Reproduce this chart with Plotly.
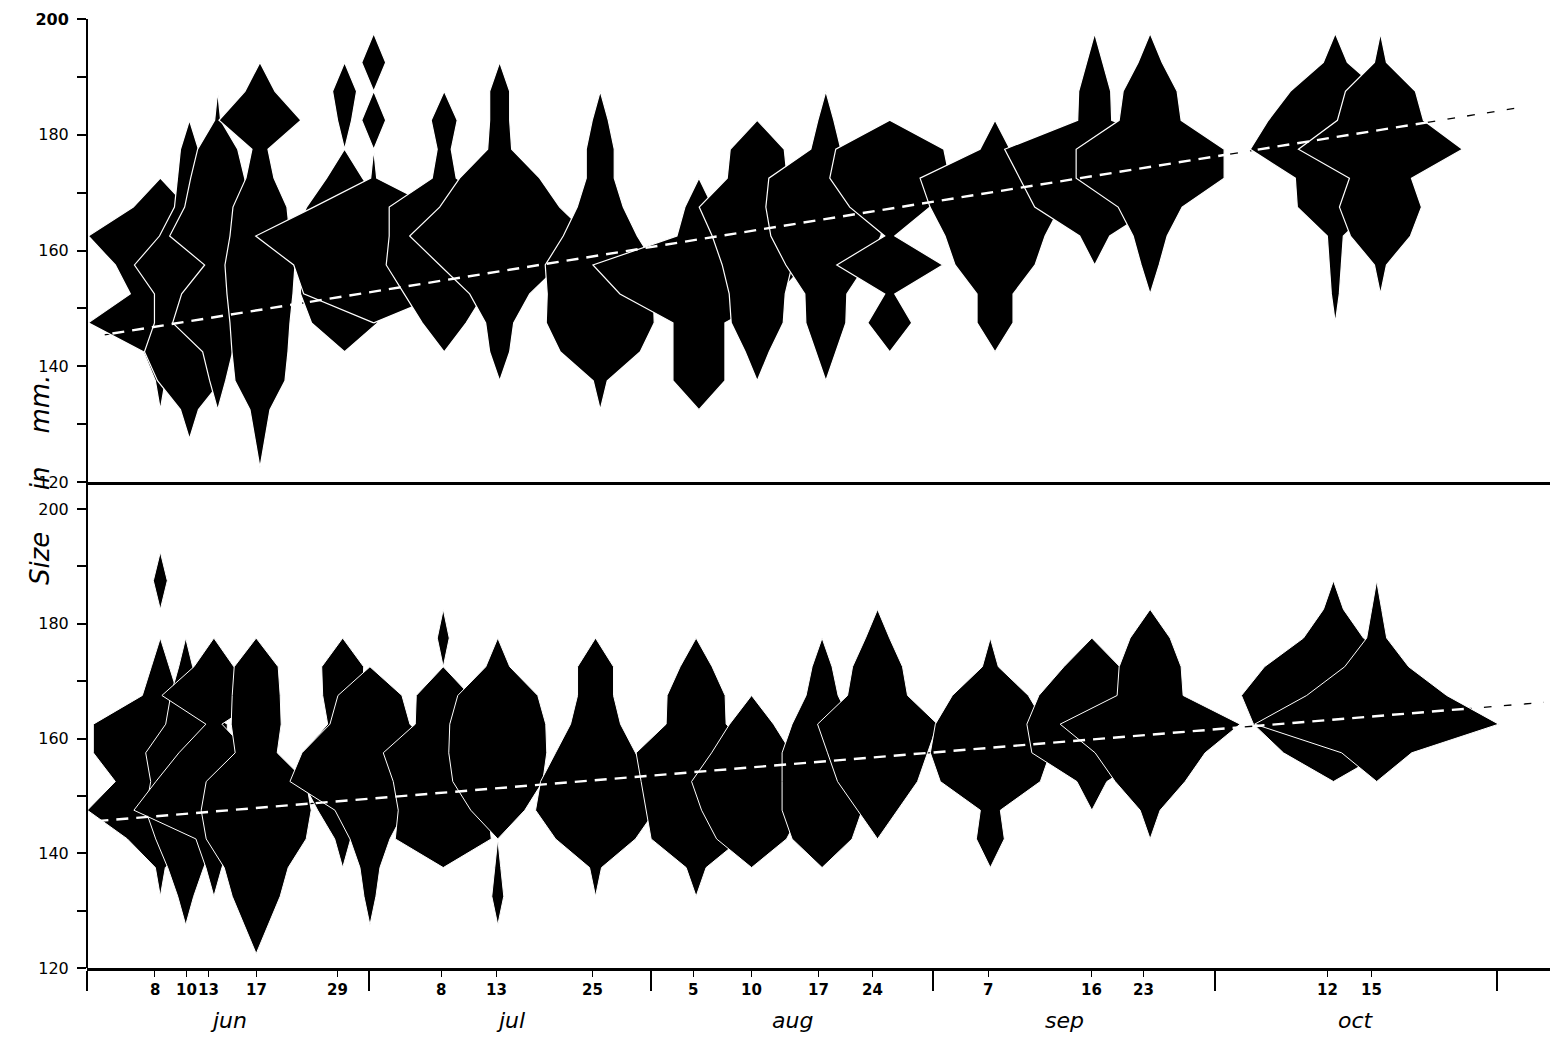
import plotly.graph_objects as go

# ---------------- data ----------------
# size classes (mm), class mid-points
CLASS_MID = [122.5 + 5 * i for i in range(16)]

# sampling positions, days after 1 June (month = 30 units on the axis)
top_days = [7.8, 10.9, 13.9, 18.4, 27.4, 30.5, 38.0, 43.9, 54.6, 65.1, 71.3,
            78.6, 85.4, 96.6, 107.2, 113.1, 132.8, 137.6]
# relative frequency (kite half-width units) for each size class, upper diagram
top_freq = [
    [0, 0, 0, 5, 17, 72, 30, 45, 72, 27, 0, 0, 0, 0, 0, 0],
    [0, 0, 9, 32, 45, 35, 35, 55, 30, 15, 12, 9, 0, 0, 0, 0],
    [0, 0, 0, 8, 15, 45, 36, 13, 48, 33, 27, 20, 3, 0, 0, 0],
    [0, 5, 10, 25, 28, 30, 33, 35, 30, 27, 14, 8, 41, 15, 0, 0],
    [0, 0, 0, 0, 0, 33, 44, 45, 50, 38, 18, 0, 7, 12, 0, 0],
    [0, 0, 0, 0, 0, 0, 70, 80, 118, 60, 3, 0, 12, 0, 12, 0],
    [0, 0, 0, 0, 0, 22, 40, 58, 55, 55, 12, 7, 13, 0, 0, 0],
    [0, 0, 0, 0, 10, 14, 30, 60, 90, 60, 40, 12, 10, 10, 0, 0],
    [0, 0, 0, 7, 40, 54, 53, 55, 37, 23, 14, 14, 8, 0, 0, 0],
    [0, 0, 0, 26, 26, 26, 79, 106, 22, 14, 0, 0, 0, 0, 0, 0],
    [0, 0, 0, 0, 12, 26, 28, 35, 45, 58, 30, 27, 0, 0, 0, 0],
    [0, 0, 0, 0, 10, 20, 21, 40, 55, 60, 57, 15, 8, 0, 0, 0],
    [0, 0, 0, 0, 0, 22, 5, 53, 5, 40, 60, 54, 0, 0, 0, 0],
    [0, 0, 0, 0, 0, 18, 18, 40, 50, 65, 75, 15, 0, 0, 0, 0],
    [0, 0, 0, 0, 0, 0, 0, 0, 15, 60, 75, 90, 17, 16, 8, 0],
    [0, 0, 0, 0, 0, 0, 0, 9, 17, 32, 74, 74, 31, 27, 12, 0],
    [0, 0, 0, 0, 0, 0, 4, 6, 8, 38, 40, 85, 67, 45, 12, 0],
    [0, 0, 0, 0, 0, 0, 0, 6, 30, 41, 31, 82, 43, 35, 6, 0],
]

bot_days = [7.8, 10.5, 13.5, 18.0, 27.2, 30.1, 37.9, 43.7, 54.1, 64.8, 70.7,
            78.2, 84.1, 96.1, 106.9, 113.1, 132.6, 137.2]
bot_freq = [
    [0, 0, 0, 5, 33, 73, 45, 67, 67, 18, 9, 0, 0, 7, 0, 0],
    [0, 0, 8, 18, 30, 40, 35, 40, 20, 15, 7, 0, 0, 0, 0, 0],
    [0, 0, 0, 8, 18, 80, 58, 35, 8, 52, 20, 0, 0, 0, 0, 0],
    [0, 12, 24, 32, 50, 55, 50, 21, 25, 24, 22, 0, 0, 0, 0, 0],
    [0, 0, 0, 0, 8, 25, 40, 40, 15, 20, 21, 0, 0, 0, 0, 0],
    [0, 0, 6, 10, 20, 35, 80, 68, 40, 32, 0, 0, 0, 0, 0, 0],
    [0, 0, 0, 0, 48, 45, 50, 60, 28, 27, 0, 6, 0, 0, 0, 0],
    [0, 0, 6, 3, 0, 27, 45, 49, 48, 40, 12, 0, 0, 0, 0, 0],
    [0, 0, 0, 6, 40, 60, 55, 40, 25, 18, 18, 0, 0, 0, 0, 0],
    [0, 0, 0, 10, 45, 50, 55, 60, 30, 29, 16, 0, 0, 0, 0, 0],
    [0, 0, 0, 0, 35, 50, 60, 40, 22, 0, 0, 0, 0, 0, 0, 0],
    [0, 0, 0, 0, 30, 40, 40, 40, 30, 16, 10, 0, 0, 0, 0, 0],
    [0, 0, 0, 0, 0, 20, 40, 50, 60, 30, 25, 12, 0, 0, 0, 0],
    [0, 0, 0, 0, 14, 10, 50, 60, 55, 38, 8, 0, 0, 0, 0, 0],
    [0, 0, 0, 0, 0, 0, 15, 60, 65, 53, 28, 0, 0, 0, 0, 0],
    [0, 0, 0, 0, 0, 10, 35, 55, 90, 33, 31, 20, 0, 0, 0, 0],
    [0, 0, 0, 0, 0, 0, 0, 50, 80, 92, 69, 30, 10, 0, 0, 0],
    [0, 0, 0, 0, 0, 0, 0, 35, 122, 70, 32, 10, 5, 0, 0, 0],
]

# regression (trend) lines: [start, end] in days and size (mm)
trend_top_days = [0.6, 152.4]
trend_top_size = [145.1, 184.7]
trend_bot_days = [1.0, 155.0]
trend_bot_size = [145.6, 166.3]

# axis labels
sample_labels = ["8", "10", "13", "17", "29", "8", "13", "25", "5", "10", "17",
                 "24", "7", "16", "23", "12", "15"]
sample_label_days = [7.2, 10.6, 12.9, 18.0, 26.7, 37.7, 43.6, 53.8, 64.5, 70.7,
                     77.8, 83.6, 95.9, 106.9, 112.4, 132.0, 136.7]
month_bounds = [0, 30, 60, 90, 120, 150]
month_names = ["jun", "jul", "aug", "sep", "oct"]
month_label_days = [15, 45, 75, 104, 135]
size_ticks = [120, 130, 140, 150, 160, 170, 180, 190, 200]

KITE_UNIT = 1 / 9.4   # days of half-width per frequency unit

# ---------------- figure geometry (page pixels) ----------------
OFF = 8                       # default page margin around the plot div
FW, FH = 1558 - 2 * OFF, 1055 - 2 * OFF
AX_LEFT = 87                  # page x of the left axis (day 0)
PX_PER_DAY = 9.4


def fx(p):
    return (p - OFF) / FW


def fy(p):
    return 1 - (p - OFF) / FH


fig = go.Figure()


def kite_xy(c, f):
    nz = [i for i, v in enumerate(f) if v > 0]
    lo = max(nz[0] - 1, 0)
    hi = min(nz[-1] + 1, len(f) - 1)
    xs, ys = [], []
    for i in range(lo, hi + 1):
        xs.append(c + f[i] * KITE_UNIT)
        ys.append(CLASS_MID[i])
    for i in range(hi, lo - 1, -1):
        xs.append(c - f[i] * KITE_UNIT)
        ys.append(CLASS_MID[i])
    xs.append(xs[0])
    ys.append(ys[0])
    return xs, ys


def add_panel(days, freqs, tdays, tsize, xa, ya, outline):
    # dark dashes of the trend line, visible only on white paper
    fig.add_trace(go.Scatter(x=tdays, y=tsize, mode="lines", xaxis=xa, yaxis=ya,
                             line=dict(color="black", width=1.3,
                                       dash="0px,12px,8px,0px"),
                             hoverinfo="skip", showlegend=False))
    for c, f in zip(days, freqs):
        xs, ys = kite_xy(c, f)
        fig.add_trace(go.Scatter(x=xs, y=ys, mode="lines", fill="toself",
                                 fillcolor="black", xaxis=xa, yaxis=ya,
                                 line=dict(color="white", width=outline),
                                 hoverinfo="skip", showlegend=False))
    # white dashes of the trend line, visible only on the black kites
    fig.add_trace(go.Scatter(x=tdays, y=tsize, mode="lines", xaxis=xa, yaxis=ya,
                             line=dict(color="white", width=2.4, dash="12px,8px"),
                             hoverinfo="skip", showlegend=False))


add_panel(top_days, top_freq, trend_top_days, trend_top_size, "x2", "y2", 1.2)
add_panel(bot_days, bot_freq, trend_bot_days, trend_bot_size, "x", "y", 1.0)

x_dom = [fx(AX_LEFT), 1]
xrange_ = [0, (OFF + FW - AX_LEFT) / PX_PER_DAY]
bot_dom = [fy(968), fy(509)]
top_dom = [fy(482), fy(19)]

tickfont = dict(family="DejaVu Sans", size=16, color="black")
bot_text = [str(v) if v % 20 == 0 else "" for v in size_ticks]
top_text = [("<b>200</b>" if v == 200 else str(v)) if v % 20 == 0 else "" for v in size_ticks]

fig.update_layout(
    width=FW, height=FH, autosize=False,
    margin=dict(l=0, r=0, t=0, b=0, autoexpand=False),
    paper_bgcolor="white", plot_bgcolor="white",
    showlegend=False,
    xaxis=dict(domain=x_dom, range=xrange_, anchor="y",
               showline=True, linecolor="black", linewidth=2.5,
               ticks="outside", tickvals=month_bounds, ticklen=20, tickwidth=1.6,
               tickcolor="black", showticklabels=False,
               showgrid=False, zeroline=False,
               minor=dict(tickvals=sample_label_days, ticks="outside", ticklen=6,
                          tickwidth=1.2, tickcolor="black", showgrid=False)),
    xaxis2=dict(domain=x_dom, range=xrange_, anchor="y2", matches="x",
                showline=True, linecolor="black", linewidth=2.5,
                ticks="", showticklabels=False, showgrid=False, zeroline=False),
    yaxis=dict(domain=bot_dom, range=[120, 200], anchor="x",
               tickvals=size_ticks, ticktext=bot_text, ticks="outside",
               ticklen=9, tickwidth=1.5, tickcolor="black", tickfont=tickfont,
               ticklabelstandoff=5,
               showline=False, showgrid=False, zeroline=False),
    yaxis2=dict(domain=top_dom, range=[120, 200], anchor="x2",
                tickvals=size_ticks, ticktext=top_text, ticks="outside",
                ticklen=9, tickwidth=1.5, tickcolor="black", tickfont=tickfont,
                ticklabelstandoff=5,
                showline=False, showgrid=False, zeroline=False),
)

# continuous left axis line through both panels
fig.add_shape(type="line", xref="paper", yref="paper",
              x0=fx(AX_LEFT), x1=fx(AX_LEFT), y0=fy(968), y1=fy(19),
              line=dict(color="black", width=2))

annotations = []
for lab, d in zip(sample_labels, sample_label_days):
    annotations.append(dict(x=d, xref="x", y=fy(990), yref="paper",
                            yanchor="middle",
                            text="<b>%s</b>" % lab, showarrow=False,
                            font=dict(family="DejaVu Sans", size=15, color="black")))
for lab, d in zip(month_names, month_label_days):
    annotations.append(dict(x=d, xref="x", y=fy(1020), yref="paper",
                            yanchor="middle",
                            text="<i>%s</i>" % lab, showarrow=False,
                            font=dict(family="DejaVu Sans", size=22, color="black")))
annotations.append(dict(x=fx(23), xref="paper", y=fy(480), yref="paper",
                        text="<i>Size&nbsp;&nbsp;&nbsp;&nbsp;&nbsp;in&nbsp;&nbsp;&nbsp;&nbsp;mm.</i>",
                        textangle=-90, showarrow=False,
                        font=dict(family="DejaVu Sans", size=26, color="black")))
fig.update_layout(annotations=annotations)

fig.write_html("out.html")
